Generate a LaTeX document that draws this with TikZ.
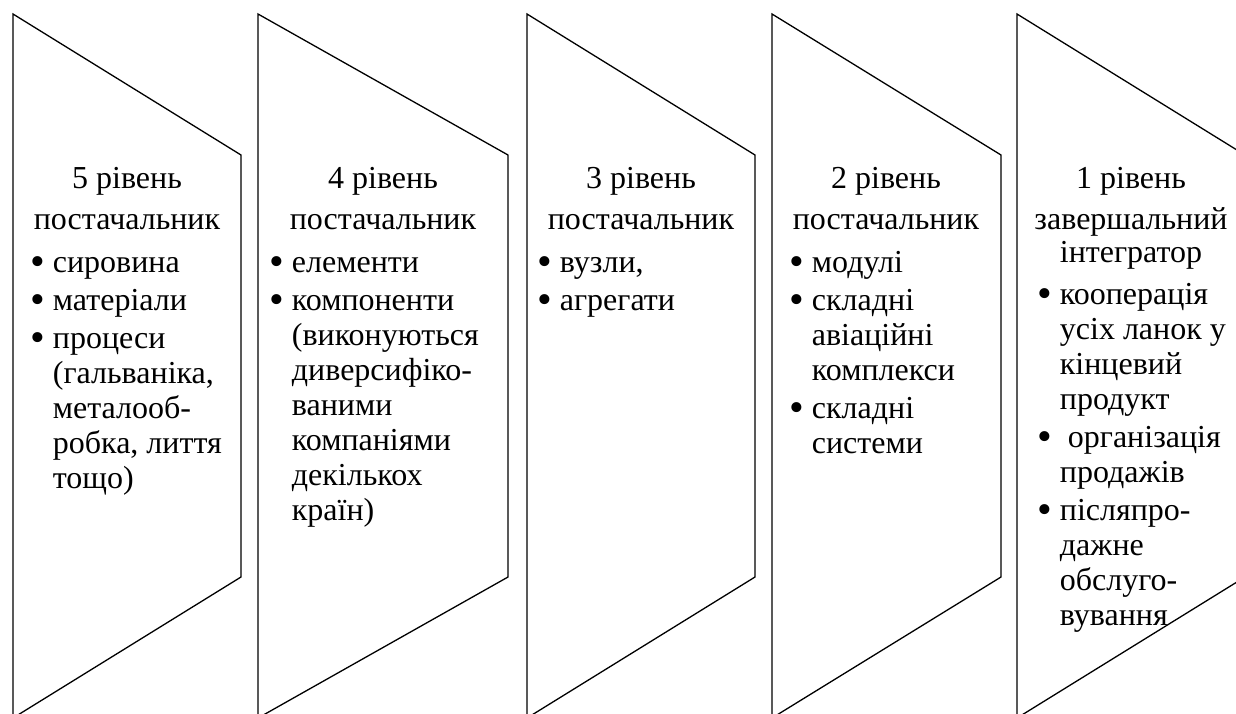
\documentclass[tikz,border=0pt]{standalone}
\usepackage{fontspec}
\setmainfont{Liberation Serif}
\newcommand\bulg{{\fontsize{42}{35}\selectfont\raisebox{-3pt}{\textbullet}}}
\newcommand\bul{\bulg\ }
\newcommand\nob{\hphantom{\bulg\ }}
\begin{document}
\begin{tikzpicture}[x=1pt,y=-1pt,
  stage/.style={draw=black,line width=1.3pt,line join=miter},
  head/.style={anchor=base,inner sep=0pt,font=\fontsize{32}{35}\selectfont},
  items/.style={anchor=base west,inner sep=0pt,font=\fontsize{32}{35}\selectfont}]
\useasboundingbox (0,0) rectangle (1236,713);
\clip (0,0) rectangle (1236,713);
% shapes
\draw[stage] (13,14) -- (241,155) -- (241,577) -- (13,718) -- cycle;
\draw[stage] (258,14) -- (508,155) -- (508,577) -- (258,718) -- cycle;
\draw[stage] (527,14) -- (755,155) -- (755,577) -- (527,718) -- cycle;
\draw[stage] (772,14) -- (1001,155) -- (1001,577) -- (772,718) -- cycle;
\draw[stage] (1017,14) -- (1245,155) -- (1245,577) -- (1017,718) -- cycle;
% headers
\node[head] (h5) at (127,188) {\begin{tabular}[t]{@{}c@{}}5 рівень\\[6pt]постачальник\end{tabular}};
\node[head] (h4) at (383,188) {\begin{tabular}[t]{@{}c@{}}4 рівень\\[6pt]постачальник\end{tabular}};
\node[head] (h3) at (641,188) {\begin{tabular}[t]{@{}c@{}}3 рівень\\[6pt]постачальник\end{tabular}};
\node[head] (h2) at (886,188) {\begin{tabular}[t]{@{}c@{}}2 рівень\\[6pt]постачальник\end{tabular}};
\node[head] (h1) at (1131,188) {\begin{tabular}[t]{@{}c@{}}1 рівень\\[6pt]завершальний\\[-2pt]інтегратор\end{tabular}};
% lists
\node[items] (l5) at (30,272) {\begin{tabular}[t]{@{}l@{}}
\bul сировина\\[3pt]
\bul матеріали\\[3pt]
\bul процеси\\
\nob (гальваніка,\\
\nob металооб-\\
\nob робка, лиття\\
\nob тощо)\end{tabular}};
\node[items] (l4) at (269,272) {\begin{tabular}[t]{@{}l@{}}
\bul елементи\\[3pt]
\bul компоненти\\
\nob (виконуються\\
\nob диверсифіко-\\
\nob ваними\\
\nob компаніями\\
\nob декількох\\
\nob країн)\end{tabular}};
\node[items] (l3) at (537,272) {\begin{tabular}[t]{@{}l@{}}
\bul вузли,\\[3pt]
\bul агрегати\end{tabular}};
\node[items] (l2) at (789,272) {\begin{tabular}[t]{@{}l@{}}
\bul модулі\\[3pt]
\bul складні\\
\nob авіаційні\\
\nob комплекси\\[3pt]
\bul складні\\
\nob системи\end{tabular}};
\node[items] (l1) at (1037,304) {\begin{tabular}[t]{@{}l@{}}
\bul кооперація\\
\nob усіх ланок у\\
\nob кінцевий\\
\nob продукт\\[3pt]
\bul\ організація\\
\nob продажів\\[3pt]
\bul післяпро-\\
\nob дажне\\
\nob обслуго-\\
\nob вування\end{tabular}};
\end{tikzpicture}
\end{document}
